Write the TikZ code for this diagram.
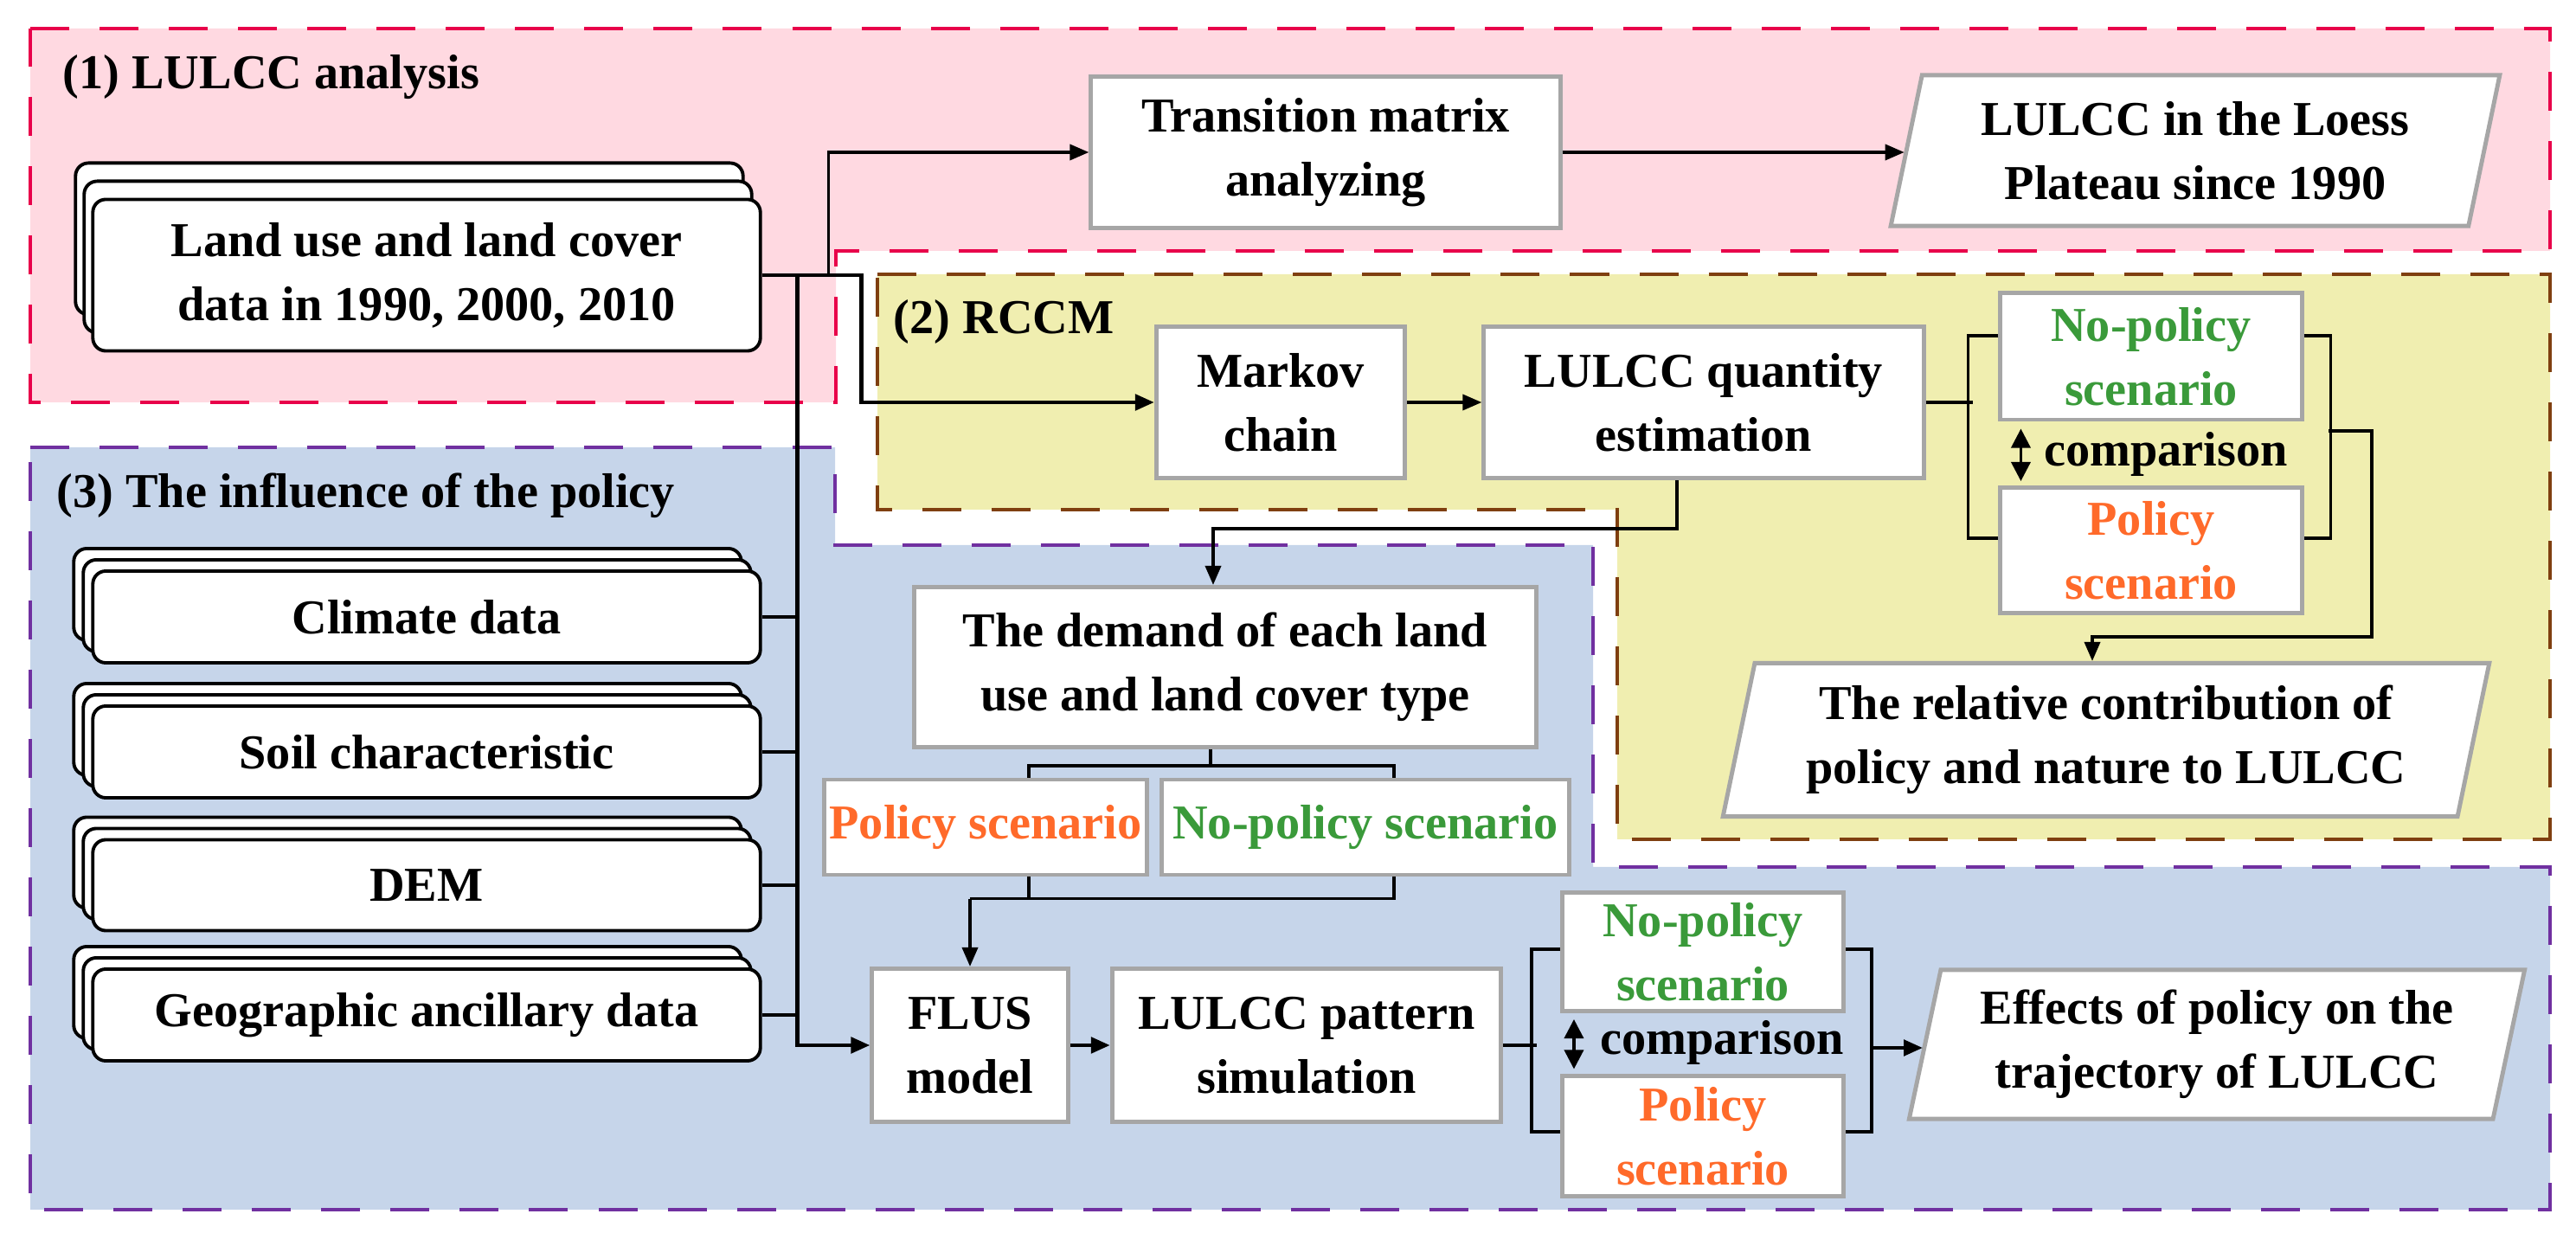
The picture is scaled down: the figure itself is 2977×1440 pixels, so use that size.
\documentclass[tikz,border=0pt]{standalone}
\usepackage{fontspec}
\setmainfont{Liberation Serif}
\usepackage{tikz}
\usetikzlibrary{shapes.geometric,shadows,arrows.meta}
\definecolor{pinkbg}{HTML}{FFD9E1}
\definecolor{pinkln}{HTML}{E8004A}
\definecolor{yelbg}{HTML}{F0EEB0}
\definecolor{yelln}{HTML}{7F3F10}
\definecolor{bluebg}{HTML}{C6D5EA}
\definecolor{blueln}{HTML}{7030A0}
\definecolor{polcol}{HTML}{FF6A2A}
\definecolor{nopcol}{HTML}{3A9A3A}

\begin{document}
\begin{tikzpicture}[x=0.01cm, y=-0.01cm,
	every node/.style={font=\bfseries\fontsize{16}{21}\selectfont, align=center, inner sep=0pt},
	box/.style={draw=gray!70, line width=1.4pt, fill=white, rectangle},
	stack/.style={draw, line width=1.1pt, fill=white, rounded corners=0.15cm, minimum width=7.71cm},
	para/.style={draw=gray!70, line width=1.4pt, fill=white, trapezium, trapezium left angle=76, trapezium right angle=104, trapezium stretches=true},
	reg/.style={line width=1.2pt, dash pattern=on 4.5mm off 3.5mm},
	line/.style={line width=1pt},
	arr/.style={line width=1pt, -{Triangle[length=2.2mm, width=1.8mm]}},
	dblarr/.style={line width=1pt, {Triangle[length=2.2mm, width=2.2mm]}-{Triangle[length=2.2mm, width=2.2mm]}}]
	\useasboundingbox (0,0) rectangle (2977,1440);

	% regions
	\draw[reg, draw=pinkln, fill=pinkbg] (35,33) -- (2947,33) -- (2947,290) -- (966,290) -- (966,465) -- (35,465) -- cycle;
	\draw[reg, draw=yelln, fill=yelbg] (1014,317) -- (2947,317) -- (2947,970) -- (1869,970) -- (1869,589) -- (1014,589) -- cycle;
	\draw[reg, draw=blueln, fill=bluebg] (35,517) -- (965,517) -- (965,630) -- (1841,630) -- (1841,1002) -- (2947,1002) -- (2947,1398) -- (35,1398) -- cycle;
	\node[anchor=west] (t1) at (72,89) {(1) LULCC analysis};
	\node[anchor=west] (t2) at (1032,372) {(2) RCCM};
	\node[anchor=west] (t3) at (65,573) {(3) The influence of the policy};

	% (1) LULCC analysis
	\node[stack, minimum height=1.75cm, double copy shadow={shadow xshift=-1mm, shadow yshift=2.1mm}] (land) at (493,318) {Land use and land cover\\data in 1990, 2000, 2010};
	\node[box, minimum width=5.42cm, minimum height=1.75cm] (trans) at (1532,176) {Transition matrix\\analyzing};
	\node[para, minimum width=7.04cm, minimum height=1.74cm] (loess) at (2537,174) {LULCC in the Loess\\Plateau since 1990};
	\draw[arr] (land.east) -- ++(77,0) |- (trans.west);
	\draw[arr] (trans.east) -- (trans.east -| loess.west);

	% (2) RCCM
	\node[box, minimum width=2.87cm, minimum height=1.75cm] (markov) at (1480,465) {Markov\\chain};
	\node[box, minimum width=5.08cm, minimum height=1.75cm] (quant) at (1969,465) {LULCC quantity\\estimation};
	\node[box, minimum width=3.48cm, minimum height=1.46cm, text=nopcol] (nop1) at (2486,412) {No-policy\\scenario};
	\node[box, minimum width=3.48cm, minimum height=1.45cm, text=polcol] (pol1) at (2486,636) {Policy\\scenario};
	\node (cmp1) at (2503,525) {comparison};
	\node[para, minimum width=8.88cm, minimum height=1.77cm] (rel) at (2434,855) {The relative contribution of\\policy and nature to LULCC};
	\draw[arr, line width=1.4pt] (land.east) -- ++(115,0) |- (markov.west);
	\draw[arr] (markov) -- (quant);
	\draw[line] (quant.east) -- ++(54,0);
	\draw[line] ([yshift=0.24cm]nop1.west) -- ++(-35,0) |- ([yshift=0.14cm]pol1.west);
	\draw[line] ([yshift=0.24cm]nop1.east) -- ++(31,0) |- ([yshift=0.14cm]pol1.east);
	\coordinate (b1) at (2691,498);
	\draw[arr] (b1) -- ++(50,0) |- (2418,736) -- (rel.north -| 2418,0);
	\draw[dblarr] ([xshift=0.26cm, yshift=-0.08cm]nop1.south west) -- ([xshift=0.26cm, yshift=0.05cm]pol1.north west);

	% (3) The influence of the policy
	\node[stack, minimum height=1.06cm, double copy shadow={shadow xshift=-1.1mm, shadow yshift=1.3mm}] (clim) at (493,713) {Climate data};
	\node[stack, minimum height=1.06cm, double copy shadow={shadow xshift=-1.1mm, shadow yshift=1.3mm}] (soil) at (493,869) {Soil characteristic};
	\node[stack, minimum height=1.05cm, double copy shadow={shadow xshift=-1.1mm, shadow yshift=1.3mm}] (dem) at (493,1023) {DEM};
	\node[stack, minimum height=1.06cm, double copy shadow={shadow xshift=-1.1mm, shadow yshift=1.3mm}] (geo) at (493,1173) {Geographic ancillary data};
	\node[box, minimum width=7.18cm, minimum height=1.85cm] (demand) at (1416,771) {The demand of each land\\use and land cover type};
	\node[box, minimum width=3.72cm, minimum height=1.10cm, text=polcol] (pol2) at (1139,956) {Policy scenario};
	\node[box, minimum width=4.70cm, minimum height=1.10cm, text=nopcol] (nop2) at (1578,956) {No-policy scenario};
	\node[box, minimum width=2.26cm, minimum height=1.77cm] (flus) at (1121,1208) {FLUS\\model};
	\node[box, minimum width=4.49cm, minimum height=1.77cm] (pat) at (1510,1208) {LULCC pattern\\simulation};
	\node[box, minimum width=3.25cm, minimum height=1.37cm, text=nopcol] (nop3) at (1968,1100) {No-policy\\scenario};
	\node[box, minimum width=3.25cm, minimum height=1.38cm, text=polcol] (pol3) at (1968,1313) {Policy\\scenario};
	\node (cmp2) at (1990,1205) {comparison};
	\node[para, minimum width=7.11cm, minimum height=1.72cm] (eff) at (2562,1207) {Effects of policy on the\\trajectory of LULCC};

	\draw[arr, line width=1.4pt] (land.east) -- ++(41,0) |- (flus.west);
	\foreach \n in {clim, soil, dem, geo}
		\draw[line] (\n.east) -- ++(41,0);
	\draw[arr] ([xshift=-0.31cm]quant.south) -- ++(0,56) -| ([xshift=-0.14cm]demand.north);
	\coordinate (d1) at ([xshift=-0.17cm, yshift=-0.19cm]demand.south);
	\draw[line] ([xshift=-0.17cm]demand.south) -- (d1);
	\draw[line] ([xshift=0.5cm]pol2.north) |- (d1) -| ([xshift=0.33cm]nop2.north);
	\coordinate (d2) at ([yshift=-0.25cm]pol2.south -| flus.north);
	\draw[line] ([xshift=0.5cm]pol2.south) |- (d2);
	\draw[line] ([xshift=0.33cm]nop2.south) |- (d2);
	\draw[arr] (d2) -- (flus.north);
	\draw[arr, line width=1.4pt] (flus) -- (pat);
	\draw[line] (pat.east) -- ++(39,0);
	\draw[line] ([yshift=0.03cm]nop3.west) -- ++(-33,0) |- ([yshift=0.05cm]pol3.west);
	\draw[line] ([yshift=0.03cm]nop3.east) -- ++(30,0) |- ([yshift=0.05cm]pol3.east);
	\coordinate (b2) at (2161,1211);
	\draw[arr, line width=1.4pt] (b2) -- (eff.west |- b2);
	\draw[dblarr] ([xshift=0.16cm, yshift=-0.07cm]nop3.south west) -- ([xshift=0.16cm, yshift=0.06cm]pol3.north west);
\end{tikzpicture}
\end{document}
